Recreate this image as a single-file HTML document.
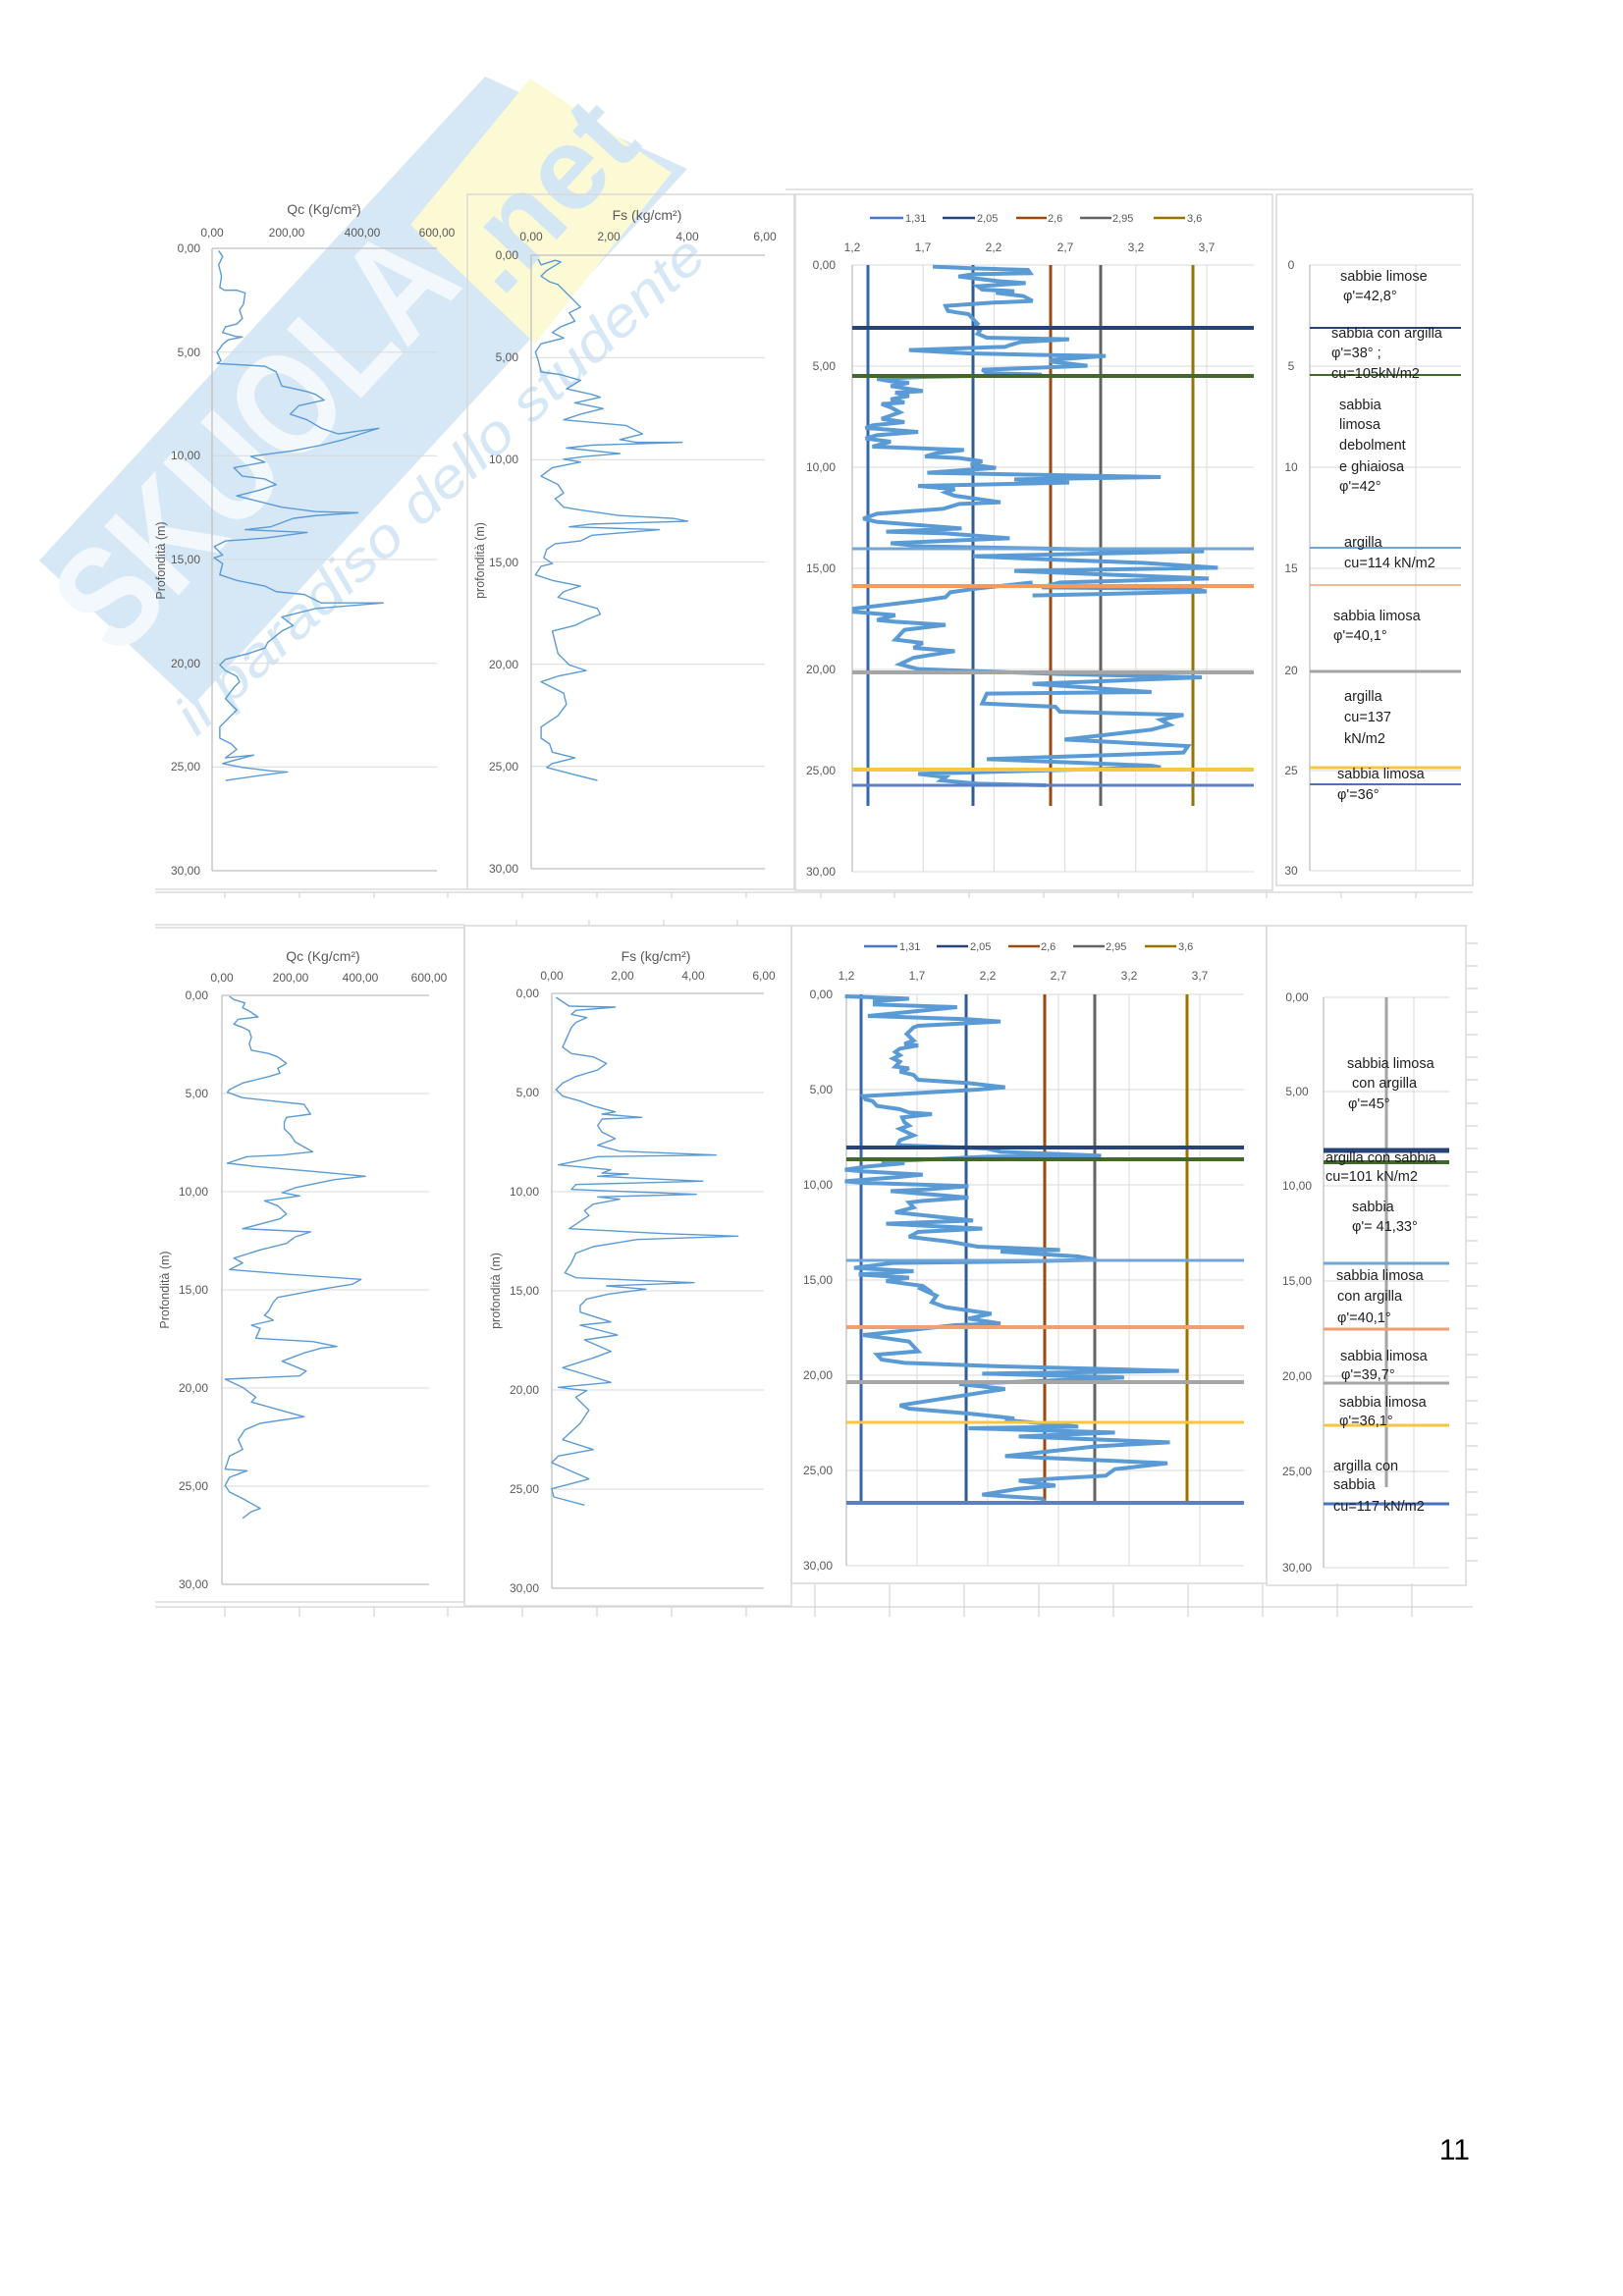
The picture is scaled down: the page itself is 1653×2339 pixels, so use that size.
<!DOCTYPE html>
<html><head><meta charset="utf-8"><style>
html,body{margin:0;padding:0;background:#fff;}
svg{display:block;}
text{font-family:"Liberation Sans",Arial,sans-serif;}
.t{font-size:12px;fill:#595959;}
.ya{font-size:12.5px;fill:#595959;}
.ti{font-size:14px;fill:#595959;}
.lg{font-size:11px;fill:#595959;}
.d{font-size:14.5px;fill:#1e1e1e;}
.g{stroke:#d9d9d9;stroke-width:1;fill:none;}
.ax{stroke:#bfbfbf;stroke-width:1.3;fill:none;}
.s{fill:none;stroke:#5b9bd5;stroke-width:1.4;stroke-linejoin:round;}
.s2{fill:none;stroke:#5b9bd5;stroke-width:4;stroke-linejoin:miter;stroke-miterlimit:3;}
.pb{fill:none;stroke:#d9d9d9;stroke-width:1.5;}
</style></head><body>
<svg width="1653" height="2339" viewBox="0 0 1653 2339" xmlns="http://www.w3.org/2000/svg">
<rect width="1653" height="2339" fill="#fff"/>

<!-- Watermark -->
<g>
<polygon points="40,571 494,78 700,172 197,718" fill="#d6e7f5"/>
<polygon points="540,80 684,176 545,350 418,229" fill="#fcfad4"/>
<text x="0" y="0" transform="translate(268,455) rotate(-47.2)" text-anchor="middle" dominant-baseline="middle" font-size="150" font-weight="bold" fill="#f3f8fc" textLength="520" lengthAdjust="spacingAndGlyphs">SKUOLA</text>
<text x="0" y="0" transform="translate(560,205) rotate(-47.2)" text-anchor="middle" dominant-baseline="middle" font-size="120" font-weight="bold" fill="#d3e6f4">.net</text>
<text x="0" y="0" transform="translate(451,497) rotate(-43)" text-anchor="middle" dominant-baseline="middle" font-size="56" font-style="italic" fill="#d6e7f5" textLength="714" lengthAdjust="spacingAndGlyphs">il paradiso dello studente</text>
</g>

<!-- spreadsheet lines -->
<g stroke="#d4d4d4" stroke-width="1.2" fill="none">
<line x1="800" y1="193" x2="1500" y2="193"/>
<line x1="158" y1="906" x2="476" y2="906"/>
<line x1="158" y1="909" x2="1500" y2="909"/>
<line x1="158" y1="942" x2="473" y2="942"/>
<line x1="158" y1="945" x2="473" y2="945"/>
<line x1="158" y1="1632" x2="473" y2="1632"/>
<line x1="158" y1="1637" x2="1500" y2="1637"/>
<path d="M229 909v6M305 909v6M381 909v6M456 909v6M532 909v6M608 909v6M684 909v6M760 909v6M836 909v6M911 909v6M987 909v6M1063 909v6M1139 909v6M1215 909v6M1290 909v6M1366 909v6M1442 909v6"/>
<path d="M526 937v6M600 937v6M676 937v6M751 937v6"/>
<path d="M229 1637v10M305 1637v10M381 1637v10M456 1637v10M532 1637v10M608 1637v10M684 1637v10M760 1637v10M830 1613v34M906 1613v34M982 1613v34M1058 1613v34M1134 1613v34M1210 1613v34M1286 1613v34M1362 1613v34M1438 1613v34"/>
<path d="M1494 961h11M1494 984h11M1494 1007h11M1494 1031h11M1494 1054h11M1494 1077h11M1494 1100h11M1494 1124h11M1494 1147h11M1494 1170h11M1494 1194h11M1494 1217h11M1494 1240h11M1494 1264h11M1494 1287h11M1494 1310h11M1494 1333h11M1494 1357h11M1494 1380h11M1494 1403h11M1494 1427h11M1494 1450h11M1494 1473h11M1494 1497h11M1494 1520h11M1494 1543h11M1494 1567h11M1494 1590h11"/>
</g>

<!-- ================= TOP ROW ================= -->
<!-- Qc1 -->
<g>
<text class="ti" x="330" y="218" text-anchor="middle">Qc (Kg/cm²)</text>
<g class="t" text-anchor="middle"><text x="216" y="241">0,00</text><text x="292" y="241">200,00</text><text x="369" y="241">400,00</text><text x="445" y="241">600,00</text></g>
<g class="g"><line x1="216" y1="358.7" x2="445" y2="358.7"/><line x1="216" y1="464.3" x2="445" y2="464.3"/><line x1="216" y1="570" x2="445" y2="570"/><line x1="216" y1="675.7" x2="445" y2="675.7"/><line x1="216" y1="781.3" x2="445" y2="781.3"/></g>
<line class="ax" x1="216" y1="253" x2="445" y2="253"/><line class="ax" x1="216" y1="887" x2="445" y2="887"/>
<line class="ax" x1="216" y1="253" x2="216" y2="887"/>
<g class="t" text-anchor="end"><text x="204" y="257">0,00</text><text x="204" y="363">5,00</text><text x="204" y="468">10,00</text><text x="204" y="574">15,00</text><text x="204" y="680">20,00</text><text x="204" y="785">25,00</text><text x="204" y="891">30,00</text></g>
<text class="ya" x="0" y="0" transform="translate(168,571) rotate(-90)" text-anchor="middle">Profondità (m)</text>
<polyline class="s" vector-effect="non-scaling-stroke" transform="scale(0.57405)" points="388,445 395,455 388,470 393,490 390,510 398,515 420,515 435,520 432,540 425,550 430,565 420,575 400,580 395,590 418,597 430,598 405,603 396,610 385,625 392,640 385,645 470,650 490,660 500,685 545,695 560,700 575,710 530,720 515,735 545,745 570,760 600,770 672,760 640,770 610,780 570,790 520,800 445,810 470,820 415,830 430,845 470,850 490,860 460,870 420,880 500,900 560,908 635,910 560,915 520,920 480,935 435,940 545,945 470,955 400,960 380,970 395,985 380,990 395,1000 390,1020 420,1030 470,1040 490,1050 540,1055 570,1070 680,1070 560,1080 500,1095 520,1110 500,1120 475,1140 470,1150 440,1160 400,1170 390,1180 400,1190 420,1200 425,1210 415,1220 400,1240 420,1260 400,1280 390,1290 390,1310 410,1320 420,1330 400,1345 450,1340 395,1355 430,1362 480,1368 510,1370 470,1375 400,1385"/>
</g>

<!-- Fs1 -->
<g>
<rect class="pb" x="476" y="198" width="333" height="708"/>
<text class="ti" x="659" y="224" text-anchor="middle">Fs (kg/cm²)</text>
<g class="t" text-anchor="middle"><text x="541" y="245">0,00</text><text x="620" y="245">2,00</text><text x="700" y="245">4,00</text><text x="779" y="245">6,00</text></g>
<g class="g"><line x1="541" y1="364.2" x2="779" y2="364.2"/><line x1="541" y1="468.3" x2="779" y2="468.3"/><line x1="541" y1="572.5" x2="779" y2="572.5"/><line x1="541" y1="676.7" x2="779" y2="676.7"/><line x1="541" y1="780.8" x2="779" y2="780.8"/></g>
<line class="ax" x1="541" y1="260" x2="779" y2="260"/><line class="ax" x1="541" y1="885" x2="779" y2="885"/>
<line class="ax" x1="541" y1="260" x2="541" y2="885"/>
<g class="t" text-anchor="end"><text x="528" y="264">0,00</text><text x="528" y="368">5,00</text><text x="528" y="472">10,00</text><text x="528" y="577">15,00</text><text x="528" y="681">20,00</text><text x="528" y="785">25,00</text><text x="528" y="889">30,00</text></g>
<text class="ya" x="0" y="0" transform="translate(493,571) rotate(-90)" text-anchor="middle">profondità (m)</text>
<polyline class="s" vector-effect="non-scaling-stroke" transform="scale(0.57405)" points="955,460 960,470 985,462 995,465 970,480 960,490 975,500 990,505 1010,525 1030,545 1010,555 1020,570 995,580 980,590 1000,600 960,610 950,625 955,640 960,660 995,665 1030,675 1005,690 1050,700 1065,705 1020,715 1070,725 1030,735 1000,745 1110,755 1140,770 1100,780 1130,785 1210,785 1050,790 1005,795 1100,805 1040,810 1000,815 1030,820 980,830 960,845 990,860 1000,875 985,885 1000,900 1030,905 1100,915 1195,920 1220,925 1050,930 1010,935 1170,940 1050,950 1030,960 985,965 970,975 965,990 980,1000 960,1005 950,1020 980,1030 1030,1040 1000,1050 990,1060 1060,1080 1065,1090 1040,1100 1020,1110 980,1120 985,1140 990,1160 1010,1180 1040,1190 990,1200 960,1210 980,1220 1000,1230 1005,1250 990,1270 960,1290 960,1310 975,1320 980,1335 1020,1345 980,1355 970,1362 1020,1375 1060,1385"/>
</g>

<!-- Third1 -->
<g>
<rect class="pb" x="810" y="198" width="486" height="709"/>
<g stroke-width="2.5">
<line x1="886" y1="222" x2="920" y2="222" stroke="#4a78c8"/>
<line x1="960" y1="222" x2="993" y2="222" stroke="#264478"/>
<line x1="1035" y1="222" x2="1066" y2="222" stroke="#9e480e"/>
<line x1="1100" y1="222" x2="1132" y2="222" stroke="#636363"/>
<line x1="1175" y1="222" x2="1207" y2="222" stroke="#997300"/>
</g>
<g class="lg"><text x="922" y="226">1,31</text><text x="995" y="226">2,05</text><text x="1067" y="226">2,6</text><text x="1133" y="226">2,95</text><text x="1209" y="226">3,6</text></g>
<g class="t" text-anchor="middle"><text x="868" y="256">1,2</text><text x="940" y="256">1,7</text><text x="1012" y="256">2,2</text><text x="1085" y="256">2,7</text><text x="1157" y="256">3,2</text><text x="1229" y="256">3,7</text></g>
<g class="g">
<line x1="868" y1="270" x2="1277" y2="270"/><line x1="868" y1="373" x2="1277" y2="373"/><line x1="868" y1="476" x2="1277" y2="476"/><line x1="868" y1="579" x2="1277" y2="579"/><line x1="868" y1="682" x2="1277" y2="682"/><line x1="868" y1="785" x2="1277" y2="785"/><line x1="868" y1="888" x2="1277" y2="888"/>
<line x1="940.2" y1="270" x2="940.2" y2="888"/><line x1="1012.4" y1="270" x2="1012.4" y2="888"/><line x1="1084.6" y1="270" x2="1084.6" y2="888"/><line x1="1156.8" y1="270" x2="1156.8" y2="888"/><line x1="1229" y1="270" x2="1229" y2="888"/>
</g>
<line class="ax" x1="868" y1="270" x2="868" y2="888"/>
<g class="t" text-anchor="end"><text x="851" y="274">0,00</text><text x="851" y="377">5,00</text><text x="851" y="480">10,00</text><text x="851" y="583">15,00</text><text x="851" y="686">20,00</text><text x="851" y="789">25,00</text><text x="851" y="892">30,00</text></g>
<g stroke-width="3">
<line x1="884" y1="270" x2="884" y2="821" stroke="#3866aa"/>
<line x1="991" y1="270" x2="991" y2="821" stroke="#2f5b98"/>
<line x1="1070" y1="270" x2="1070" y2="821" stroke="#9e480e"/>
<line x1="1121" y1="270" x2="1121" y2="821" stroke="#636363"/>
<line x1="1215" y1="270" x2="1215" y2="821" stroke="#997300"/>
</g>
<polyline class="s2" vector-effect="non-scaling-stroke" transform="translate(800,180) scale(0.46598,0.33333)" points="322,275 410,280 530,285 535,295 410,298 378,305 470,320 525,325 420,335 430,345 500,350 460,355 520,365 540,380 450,385 350,395 355,410 375,415 400,420 410,435 420,450 415,460 425,470 420,480 440,492 620,497 515,505 490,515 480,520 270,530 400,540 560,545 700,548 580,560 580,565 660,578 430,590 440,600 560,605 300,612 200,618 230,625 270,630 230,640 300,655 240,660 270,670 230,680 260,690 210,695 230,705 250,720 230,730 210,740 260,750 190,760 175,768 290,780 200,790 175,800 230,810 190,825 390,835 330,845 305,855 380,860 430,870 405,880 460,890 310,905 820,918 500,925 620,935 290,945 370,955 350,965 370,975 470,995 380,1000 345,1015 200,1030 170,1045 200,1055 385,1075 220,1085 350,1090 490,1105 230,1120 300,1130 915,1145 410,1160 580,1170 780,1180 945,1195 500,1205 925,1228 600,1240 560,1255 900,1260 920,1268 540,1280"/>
<polyline class="s2" vector-effect="non-scaling-stroke" transform="translate(800,580) scale(0.46598,0.33333)" points="540,40 410,60 360,70 350,85 300,95 150,120 150,130 240,140 200,155 240,160 350,170 260,185 240,215 300,225 280,240 370,250 280,270 250,290 290,305 600,320 910,330 540,350 800,375 440,380 430,410 590,420 600,435 870,445 820,460 840,475 800,490 610,520 880,540 870,560 440,580 800,600 820,605 290,625 350,635 340,645 420,655 570,660"/>
<g>
<line x1="868" y1="334" x2="1277" y2="334" stroke="#264478" stroke-width="4"/>
<line x1="868" y1="383" x2="1277" y2="383" stroke="#43682b" stroke-width="4"/>
<line x1="868" y1="559" x2="1277" y2="559" stroke="#6fa5d8" stroke-width="3"/>
<line x1="868" y1="597" x2="1277" y2="597" stroke="#f59a5a" stroke-width="4"/>
<line x1="868" y1="685" x2="1277" y2="685" stroke="#a5a5a5" stroke-width="4"/>
<line x1="868" y1="784" x2="1277" y2="784" stroke="#f7c640" stroke-width="4"/>
<line x1="868" y1="800" x2="1277" y2="800" stroke="#5b80c6" stroke-width="3"/>
</g>
</g>

<!-- Fourth1 -->
<g>
<rect class="pb" x="1300" y="198" width="200" height="704"/>
<g class="g">
<line x1="1334" y1="270" x2="1488" y2="270"/><line x1="1334" y1="373" x2="1488" y2="373"/><line x1="1334" y1="476" x2="1488" y2="476"/><line x1="1334" y1="579" x2="1488" y2="579"/><line x1="1334" y1="683" x2="1488" y2="683"/><line x1="1334" y1="785" x2="1488" y2="785"/><line x1="1334" y1="887" x2="1488" y2="887"/>
<line x1="1442" y1="270" x2="1442" y2="887"/>
</g>
<line class="ax" x1="1334" y1="270" x2="1334" y2="887"/>
<g class="t" text-anchor="middle"><text x="1315" y="274">0</text><text x="1315" y="377">5</text><text x="1315" y="480">10</text><text x="1315" y="583">15</text><text x="1315" y="687">20</text><text x="1315" y="789">25</text><text x="1315" y="891">30</text></g>
<line x1="1334" y1="334" x2="1488" y2="334" stroke="#264478" stroke-width="2"/>
<line x1="1334" y1="382" x2="1488" y2="382" stroke="#43682b" stroke-width="2"/>
<line x1="1334" y1="558" x2="1488" y2="558" stroke="#6fa5d8" stroke-width="2"/>
<line x1="1334" y1="596" x2="1488" y2="596" stroke="#f0a070" stroke-width="1.5"/>
<line x1="1334" y1="684" x2="1488" y2="684" stroke="#a5a5a5" stroke-width="3"/>
<line x1="1334" y1="782" x2="1488" y2="782" stroke="#f7c640" stroke-width="3"/>
<line x1="1334" y1="799" x2="1488" y2="799" stroke="#4a72c0" stroke-width="2"/>
<g class="d">
<text x="1365" y="286">sabbie limose</text>
<text x="1368" y="306">φ'=42,8°</text>
<text x="1356" y="344">sabbia con argilla</text>
<text x="1356" y="364">φ'=38° ;</text>
<text x="1356" y="385">cu=105kN/m2</text>
<text x="1364" y="417">sabbia</text>
<text x="1364" y="437">limosa</text>
<text x="1364" y="458">debolment</text>
<text x="1364" y="480">e ghiaiosa</text>
<text x="1364" y="500">φ'=42°</text>
<text x="1369" y="557">argilla</text>
<text x="1369" y="578">cu=114 kN/m2</text>
<text x="1358" y="632">sabbia limosa</text>
<text x="1358" y="652">φ'=40,1°</text>
<text x="1369" y="714">argilla</text>
<text x="1369" y="735">cu=137</text>
<text x="1369" y="757">kN/m2</text>
<text x="1362" y="793">sabbia limosa</text>
<text x="1362" y="814">φ'=36°</text>
</g>
</g>

<!-- ================= BOTTOM ROW ================= -->
<!-- Qc2 -->
<g>
<line x1="473" y1="942" x2="473" y2="1632" stroke="#d4d4d4" stroke-width="1.5"/>
<text class="ti" x="329" y="979" text-anchor="middle">Qc (Kg/cm²)</text>
<g class="t" text-anchor="middle"><text x="226" y="1000">0,00</text><text x="296" y="1000">200,00</text><text x="367" y="1000">400,00</text><text x="437" y="1000">600,00</text></g>
<g class="g"><line x1="226" y1="1114" x2="437" y2="1114"/><line x1="226" y1="1214" x2="437" y2="1214"/><line x1="226" y1="1314" x2="437" y2="1314"/><line x1="226" y1="1414" x2="437" y2="1414"/><line x1="226" y1="1514" x2="437" y2="1514"/></g>
<line class="ax" x1="226" y1="1014" x2="437" y2="1014"/><line class="ax" x1="226" y1="1614" x2="437" y2="1614"/>
<line class="ax" x1="226" y1="1014" x2="226" y2="1614"/>
<g class="t" text-anchor="end"><text x="212" y="1018">0,00</text><text x="212" y="1118">5,00</text><text x="212" y="1218">10,00</text><text x="212" y="1318">15,00</text><text x="212" y="1418">20,00</text><text x="212" y="1518">25,00</text><text x="212" y="1618">30,00</text></g>
<text class="ya" x="0" y="0" transform="translate(172,1314) rotate(-90)" text-anchor="middle">Profondità (m)</text>
<polyline class="s" vector-effect="non-scaling-stroke" transform="translate(140,930) scale(0.44643,0.33333)" points="210,255 220,265 245,275 240,290 255,300 275,318 230,325 220,340 240,350 255,360 260,380 255,400 260,420 300,430 320,440 340,460 320,475 325,490 300,500 270,510 240,520 210,540 205,548 240,565 310,575 380,585 395,615 340,625 335,640 335,660 350,680 360,700 400,730 330,740 250,745 205,765 270,775 400,790 520,805 450,815 360,840 330,855 370,865 290,880 320,895 340,920 325,935 240,965 395,975 360,990"/>
<polyline class="s" vector-effect="non-scaling-stroke" transform="translate(140,1250) scale(0.44643,0.33333)" points="360,30 340,50 280,70 220,95 240,110 210,130 350,145 510,160 490,175 420,190 320,215 310,230 300,255 290,270 310,285 260,300 280,310 270,340 400,350 455,365 420,370 380,385 330,410 385,440 370,455 200,465 240,490 270,520 260,535 300,550 380,580 280,600 245,620 230,650 240,680 210,700 200,740 250,745 210,765 200,790 210,810 240,830 280,860 260,870 240,890"/>
</g>

<!-- Fs2 -->
<g>
<rect class="pb" x="473" y="943" width="333" height="693"/>
<text class="ti" x="668" y="979" text-anchor="middle">Fs (kg/cm²)</text>
<g class="t" text-anchor="middle"><text x="562" y="998">0,00</text><text x="634" y="998">2,00</text><text x="706" y="998">4,00</text><text x="778" y="998">6,00</text></g>
<g class="g"><line x1="562" y1="1113" x2="778" y2="1113"/><line x1="562" y1="1214" x2="778" y2="1214"/><line x1="562" y1="1315" x2="778" y2="1315"/><line x1="562" y1="1416" x2="778" y2="1416"/><line x1="562" y1="1517" x2="778" y2="1517"/></g>
<line class="ax" x1="562" y1="1012" x2="778" y2="1012"/><line class="ax" x1="562" y1="1618" x2="778" y2="1618"/>
<line class="ax" x1="562" y1="1012" x2="562" y2="1618"/>
<g class="t" text-anchor="end"><text x="549" y="1016">0,00</text><text x="549" y="1117">5,00</text><text x="549" y="1218">10,00</text><text x="549" y="1319">15,00</text><text x="549" y="1420">20,00</text><text x="549" y="1521">25,00</text><text x="549" y="1622">30,00</text></g>
<text class="ya" x="0" y="0" transform="translate(509,1315) rotate(-90)" text-anchor="middle">profondità (m)</text>
<polyline class="s" vector-effect="non-scaling-stroke" transform="translate(140,930) scale(0.44643,0.33333)" points="955,258 985,285 1090,288 1000,298 990,310 1025,320 1000,335 990,350 980,380 970,410 990,430 1040,440 1070,460 1050,480 1000,500 970,520 955,540 970,560 1010,575 1040,590 1090,608 1060,615 1150,625 1060,630 1050,650 1060,670 1090,690 1050,710 1100,728 1320,740 1050,745 960,770 1080,785 1060,795 1120,798 1050,805 1290,820 1000,830 990,845 1275,860 1050,868 1100,875 1040,890 1020,910 1030,925 985,965 1200,980"/>
<polyline class="s" vector-effect="non-scaling-stroke" transform="translate(140,1250) scale(0.44643,0.33333)" points="1200,20 1370,28 1140,38 1040,60 1000,80 990,110 975,140 1000,155 1270,170 1070,180 1160,190 1075,205 1025,220 1010,240 1010,260 1080,290 1010,300 1095,330 1020,345 1080,380 1040,400 970,430 1020,450 1080,475 960,490 1025,500 1000,520 1030,560 1010,600 970,650 1040,680 960,700 945,720 1030,770 945,800 950,825 1020,850"/>
</g>

<!-- Third2 -->
<g>
<rect class="pb" x="806" y="943" width="484" height="670"/>
<g stroke-width="2.5">
<line x1="880" y1="964" x2="914" y2="964" stroke="#4a78c8"/>
<line x1="954" y1="964" x2="986" y2="964" stroke="#264478"/>
<line x1="1027" y1="964" x2="1059" y2="964" stroke="#9e480e"/>
<line x1="1093" y1="964" x2="1125" y2="964" stroke="#636363"/>
<line x1="1166" y1="964" x2="1198" y2="964" stroke="#997300"/>
</g>
<g class="lg"><text x="916" y="968">1,31</text><text x="988" y="968">2,05</text><text x="1060" y="968">2,6</text><text x="1126" y="968">2,95</text><text x="1200" y="968">3,6</text></g>
<g class="t" text-anchor="middle"><text x="862" y="998">1,2</text><text x="934" y="998">1,7</text><text x="1006" y="998">2,2</text><text x="1078" y="998">2,7</text><text x="1150" y="998">3,2</text><text x="1222" y="998">3,7</text></g>
<g class="g">
<line x1="862" y1="1013" x2="1267" y2="1013"/><line x1="862" y1="1110" x2="1267" y2="1110"/><line x1="862" y1="1207" x2="1267" y2="1207"/><line x1="862" y1="1304" x2="1267" y2="1304"/><line x1="862" y1="1401" x2="1267" y2="1401"/><line x1="862" y1="1498" x2="1267" y2="1498"/><line x1="862" y1="1595" x2="1267" y2="1595"/>
<line x1="934" y1="1013" x2="934" y2="1595"/><line x1="1006" y1="1013" x2="1006" y2="1595"/><line x1="1078" y1="1013" x2="1078" y2="1595"/><line x1="1150" y1="1013" x2="1150" y2="1595"/><line x1="1222" y1="1013" x2="1222" y2="1595"/>
</g>
<line class="ax" x1="862" y1="1013" x2="862" y2="1595"/>
<g class="t" text-anchor="end"><text x="848" y="1017">0,00</text><text x="848" y="1114">5,00</text><text x="848" y="1211">10,00</text><text x="848" y="1308">15,00</text><text x="848" y="1405">20,00</text><text x="848" y="1502">25,00</text><text x="848" y="1599">30,00</text></g>
<g stroke-width="3">
<line x1="877" y1="1013" x2="877" y2="1530" stroke="#3866aa"/>
<line x1="984" y1="1013" x2="984" y2="1530" stroke="#2f5b98"/>
<line x1="1064" y1="1013" x2="1064" y2="1530" stroke="#9e480e"/>
<line x1="1115" y1="1013" x2="1115" y2="1530" stroke="#636363"/>
<line x1="1209" y1="1013" x2="1209" y2="1530" stroke="#997300"/>
</g>
<polyline class="s2" vector-effect="non-scaling-stroke" transform="translate(800,940) scale(0.46598,0.33333)" points="130,225 270,232 195,240 195,250 375,258 180,285 400,295 470,302 290,315 280,320 265,340 280,360 260,370 290,375 250,385 240,395 250,405 235,415 250,425 240,440 270,445 250,455 280,465 290,480 400,490 480,503 420,510 170,530 175,540 190,545 200,560 250,570 270,580 320,585 255,595 260,610 270,620 250,630 280,650 250,665 245,680 440,690 470,700 690,712 440,715 210,730 260,735 180,745 130,755 170,760 300,770 240,778 130,790 170,795 400,805 310,815 230,820 400,840 300,850 270,855 280,870 240,885 410,910 220,920 430,935 290,945 270,960 360,975 420,990 600,1000 470,1005 640,1020 680,1030 520,1035 235,1040 150,1055 280,1065 160,1075 270,1085 220,1095 300,1110 320,1130"/>
<polyline class="s2" vector-effect="non-scaling-stroke" transform="translate(800,1300) scale(0.46598,0.33333)" points="290,35 330,60 320,80 350,95 450,115 400,130 470,145 370,150 240,170 170,180 270,200 290,230 200,240 210,255 260,265 450,275 860,290 430,298 740,310 380,330 480,345 250,395 270,405 400,420 500,435 480,440 640,460 400,465 720,478 510,490 840,508 680,520 480,550 835,572 720,590 700,610 510,625 590,640 510,650 430,668 560,680 567,690"/>
<g>
<line x1="862" y1="1169" x2="1267" y2="1169" stroke="#264478" stroke-width="4"/>
<line x1="862" y1="1181" x2="1267" y2="1181" stroke="#43682b" stroke-width="4"/>
<line x1="862" y1="1284" x2="1267" y2="1284" stroke="#6fa5d8" stroke-width="3"/>
<line x1="862" y1="1352" x2="1267" y2="1352" stroke="#f0a070" stroke-width="4"/>
<line x1="862" y1="1408" x2="1267" y2="1408" stroke="#a5a5a5" stroke-width="4"/>
<line x1="862" y1="1449" x2="1267" y2="1449" stroke="#f7c640" stroke-width="3"/>
<line x1="862" y1="1531" x2="1267" y2="1531" stroke="#5b80c6" stroke-width="4"/>
</g>
</g>

<!-- Fourth2 -->
<g>
<rect class="pb" x="1290" y="943" width="203" height="672"/>
<g class="g">
<line x1="1348" y1="1016" x2="1476" y2="1016"/><line x1="1348" y1="1112" x2="1476" y2="1112"/><line x1="1348" y1="1208" x2="1476" y2="1208"/><line x1="1348" y1="1305" x2="1476" y2="1305"/><line x1="1348" y1="1402" x2="1476" y2="1402"/><line x1="1348" y1="1499" x2="1476" y2="1499"/><line x1="1348" y1="1597" x2="1476" y2="1597"/>
<line x1="1440" y1="1016" x2="1440" y2="1597"/>
</g>
<line class="ax" x1="1348" y1="1016" x2="1348" y2="1597"/>
<g class="t" text-anchor="middle"><text x="1321" y="1020">0,00</text><text x="1321" y="1116">5,00</text><text x="1321" y="1212">10,00</text><text x="1321" y="1309">15,00</text><text x="1321" y="1406">20,00</text><text x="1321" y="1503">25,00</text><text x="1321" y="1601">30,00</text></g>
<line x1="1412" y1="1016" x2="1412" y2="1515" stroke="#a5a5a5" stroke-width="3"/>
<line x1="1348" y1="1172" x2="1476" y2="1172" stroke="#264478" stroke-width="5"/>
<line x1="1348" y1="1184" x2="1476" y2="1184" stroke="#43682b" stroke-width="4"/>
<line x1="1348" y1="1287" x2="1476" y2="1287" stroke="#6fa5d8" stroke-width="3"/>
<line x1="1348" y1="1354" x2="1476" y2="1354" stroke="#f0a070" stroke-width="3"/>
<line x1="1348" y1="1409" x2="1476" y2="1409" stroke="#a5a5a5" stroke-width="3"/>
<line x1="1348" y1="1452" x2="1476" y2="1452" stroke="#f7c640" stroke-width="3"/>
<line x1="1348" y1="1532" x2="1476" y2="1532" stroke="#4a72c0" stroke-width="3"/>
<g class="d">
<text x="1372" y="1088">sabbia limosa</text>
<text x="1377" y="1108">con argilla</text>
<text x="1373" y="1129">φ'=45°</text>
<text x="1350" y="1184">argilla con sabbia</text>
<text x="1350" y="1203">cu=101 kN/m2</text>
<text x="1377" y="1234">sabbia</text>
<text x="1377" y="1254">φ'= 41,33°</text>
<text x="1361" y="1304">sabbia limosa</text>
<text x="1362" y="1325">con argilla</text>
<text x="1362" y="1347">φ'=40,1°</text>
<text x="1365" y="1386">sabbia limosa</text>
<text x="1366" y="1405">φ'=39,7°</text>
<text x="1364" y="1433">sabbia limosa</text>
<text x="1364" y="1452">φ'=36,1°</text>
<text x="1358" y="1498">argilla con</text>
<text x="1358" y="1517">sabbia</text>
<text x="1358" y="1539">cu=117 kN/m2</text>
</g>
</g>

<!-- page number -->
<text x="1497" y="2200" text-anchor="end" font-size="30" fill="#000">11</text>
</svg>
</body></html>
